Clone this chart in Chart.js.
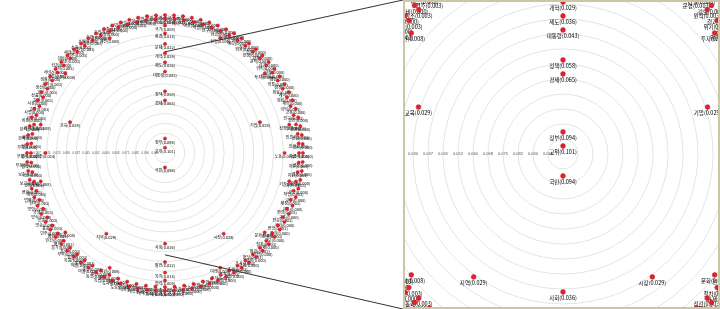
<!DOCTYPE html>
<html>
<head>
<meta charset="utf-8">
<script src="https://cdn.jsdelivr.net/npm/chart.js@4/dist/chart.umd.min.js"></script>
<style>
  body { margin: 0; background: #fff; width: 720px; height: 309px; overflow: hidden; position: relative; }
  #overview { position: absolute; left: 0; top: 0; }
  #zoomBox { position: absolute; left: 403px; top: 0; width: 317px; height: 309px;
             border: 2px solid #cdc6a6; box-sizing: border-box; background: #fff; }
  #detail { display: block; }
</style>
</head>
<body>
<canvas id="overview" width="403" height="309"></canvas>
<div id="zoomBox"><canvas id="detail" width="313" height="305"></canvas></div>
<script>
// radial centrality layout: high value at centre, 0 at the outer ring
var scaleMax = 0.105;
var ringStep = 0.0075;

// one value per group of nodes (nodes with the same value share a ring)
var groupValues = [0.101, 0.094, 0.065, 0.058, 0.043, 0.036, 0.029, 0.022, 0.014, 0.008, 0.003, 0.000];
var groupNames = [
  '고위',
  '정부 국민',
  '경제',
  '정책',
  '대통령',
  '제도 사회',
  '개혁 기업 시장 지역 교육',
  '문제 발전',
  '환경 노동 복지 안전',
  '국가 산업 투자 성장 기술 문화 미래 협력 지원 관리 정보 과학 보건 예산',
  '약속 언론 에너지 여론 역할 연구 연금 영향 예측 외교 운영 원칙 위기 위원회 유통 의료 의회 이익 인구 인력 ' +
  '인프라 임금 자금 자본 자원 자유 작업 재정 전략 전문 전망 전환 절차 점검 정당 조사 조세 조직 주거 주민 ' +
  '주택 중소 증가 지방 지출 직원 질서 참여 청년 체계 체제 추진 출산 통계 통합 통화 평가 평화 표준 학교 ' +
  '학생 한국 해외 행정 혁신 협상 협약 형평 화폐 확대 회의 효과 효율 후보 휴가 흐름 가치 감소 거주 경기 ' +
  '계층 고령 공정 과세 구매 국방 규정 근로',
  '가격 가구 가족 각국 간부 감사 강화 개발 개방 거래 건강 건설 검토 결과 결정 경영 경쟁 계약 계획 고용 ' +
  '공간 공공 공급 공사 공약 공장 과정 관계 관광 교류 교통 구조 국회 권리 규모 규제 균형 금리 금융 기관 ' +
  '기금 기록 기반 기준 기회 농업 농촌 능력 단계 단체 대책 대학 대화 도로 도시 독립 동향 마을 매출 목표 ' +
  '무역 물가 민간 민주 방송 방식 방안 법률 변화 보고 보호 부동산 부문 부채 분배 분석 비용 사업 사용 상품 ' +
  '생산 생활 서비스 선거 설비 세금 소득 소비 수요 수입 수출 시민 시설 신용 실업 안정'
];

// build points: distance from centre = scaleMax - value, nodes of a group spread evenly from the top
var nodeNames = [];
var nodeValues = [];
var nodePoints = [];
for (var g = 0; g < groupValues.length; g++) {
  var names = groupNames[g].split(' ');
  for (var j = 0; j < names.length; j++) {
    var a = 2 * Math.PI * j / names.length;
    var d = scaleMax - groupValues[g];
    nodePoints.push({ x: d * Math.sin(a), y: d * Math.cos(a) });
    nodeNames.push(names[j]);
    nodeValues.push(groupValues[g]);
  }
}

var radialPlugin = {
  id: 'radial',
  beforeDatasetsDraw: function(chart) {
    var st = chart.options.plugins.radial;
    var ctx = chart.ctx;
    var xs = chart.scales.x, ys = chart.scales.y;
    var cx = xs.getPixelForValue(0), cy = ys.getPixelForValue(0);
    var unit = xs.getPixelForValue(1) - cx;
    var nRings = Math.round(scaleMax / ringStep);
    ctx.save();
    ctx.strokeStyle = '#e4e4e4';
    ctx.lineWidth = st.ringWidth;
    for (var i = 1; i <= nRings; i++) {
      ctx.beginPath();
      ctx.arc(cx, cy, i * ringStep * unit, 0, 2 * Math.PI);
      ctx.stroke();
    }
    // tick labels along the left radius
    ctx.fillStyle = '#555';
    ctx.font = st.tickSize + 'px "Liberation Sans", Arial, sans-serif';
    ctx.textAlign = 'center';
    ctx.textBaseline = 'middle';
    for (var k = 1; k <= nRings; k++) {
      var v = scaleMax - k * ringStep;
      ctx.fillText(v < 1e-9 ? '0' : v.toFixed(3), cx - k * ringStep * unit, cy);
    }
    // node labels below each point
    var meta = chart.getDatasetMeta(0);
    ctx.fillStyle = '#000';
    ctx.font = st.labelSize + 'px "Noto Sans CJK KR", sans-serif';
    meta.data.forEach(function(pt, idx) {
      ctx.fillText(nodeNames[idx] + '(' + nodeValues[idx].toFixed(3) + ')', pt.x, pt.y + st.labelOffset);
    });
    ctx.restore();
  }
};

var makeRadialChart = function(canvasId, view, style, extraPlugins) {
  var ctx = document.getElementById(canvasId).getContext('2d');
  return new Chart(ctx, {
    type: 'scatter',
    data: {
      datasets: [{
        data: nodePoints,
        backgroundColor: '#e3222b',
        borderColor: '#b8141b',
        borderWidth: 0.5,
        pointRadius: style.dot,
        pointHoverRadius: style.dot
      }]
    },
    options: {
      responsive: false,
      animation: false,
      layout: { padding: 0, autoPadding: false },
      plugins: {
        legend: { display: false },
        tooltip: { enabled: false },
        radial: style
      },
      scales: {
        x: { type: 'linear', display: false, min: view.x0, max: view.x1 },
        y: { type: 'linear', display: false, min: view.y0, max: view.y1 }
      }
    },
    plugins: [radialPlugin].concat(extraPlugins || [])
  });
};

// zoom window shown in the right panel (value units, centre = 0)
var detailView = { x0: -158 / 2000, x1: 155 / 2000, y0: -153 / 2000, y1: 152 / 2000 };
var overviewView = { x0: -165 / 1314, x1: 238 / 1314, y0: -156 / 1314, y1: 153 / 1314 };

// lines linking the zoom window to the detail panel
var connectorPlugin = {
  id: 'connector',
  afterDraw: function(chart) {
    var ctx = chart.ctx;
    var xs = chart.scales.x, ys = chart.scales.y;
    var cx = xs.getPixelForValue(0);
    ctx.save();
    ctx.strokeStyle = '#333';
    ctx.lineWidth = 1;
    ctx.beginPath();
    ctx.moveTo(cx, ys.getPixelForValue(detailView.y1 + 0.001));
    ctx.lineTo(chart.width, 0);
    ctx.moveTo(cx, ys.getPixelForValue(detailView.y0 - 0.001));
    ctx.lineTo(chart.width, chart.height);
    ctx.stroke();
    ctx.restore();
  }
};

makeRadialChart('overview', overviewView,
  { dot: 1.6, ringWidth: 1, tickSize: 3, labelSize: 4, labelOffset: 3.5 }, [connectorPlugin]);
makeRadialChart('detail', detailView,
  { dot: 2.4, ringWidth: 1, tickSize: 4, labelSize: 5.5, labelOffset: 6 });
</script>
</body>
</html>
